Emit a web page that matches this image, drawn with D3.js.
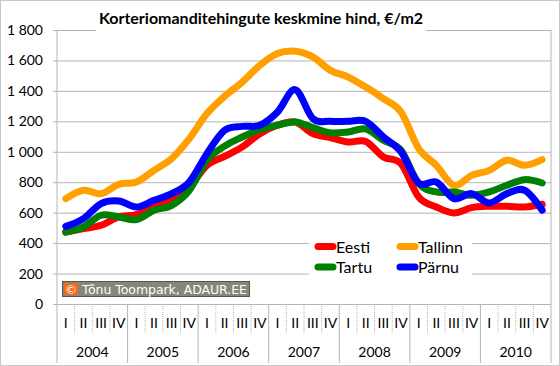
<!DOCTYPE html>
<html>
<head>
<meta charset="utf-8">
<script src="https://cdn.jsdelivr.net/npm/d3@7"></script>
<style>
body { margin:0; background:#fff; }
text { font-family: Lato, "Open Sans", sans-serif; }
</style>
</head>
<body>
<svg id="chart"></svg>
<script>

var years = ["2004","2005","2006","2007","2008","2009","2010"];
var quarters = ["I","II","III","IV"];
var yTicks = [0,200,400,600,800,1000,1200,1400,1600,1800];

var eesti   = [473,495,517,572,587,648,692,769,911,970,1032,1119,1174,1196,1119,1093,1064,1068,966,922,703,637,598,633,642,642,637,655];
var tallinn = [692,747,725,786,801,878,955,1086,1251,1365,1458,1568,1645,1660,1623,1535,1491,1425,1349,1261,1021,911,780,845,878,944,911,948];
var tartu   = [473,506,583,572,554,616,648,747,944,1037,1097,1146,1174,1196,1159,1124,1130,1150,1075,1010,791,736,736,714,736,780,817,795];
var parnu   = [510,561,660,677,637,681,725,801,988,1141,1167,1174,1261,1408,1218,1200,1200,1200,1097,999,795,801,692,725,664,725,747,616];

var seriesNames = ["Eesti","Tallinn","Tartu","Pärnu"];
var seriesColors = ["#ff0000","#ff9f00","#008000","#0000ff"];

var screen = {width:560, height:366};
var margins = {top:30, bottom:62, left:57, right:9};

var graph =
{
    width:screen.width-margins.left-margins.right,
    height:screen.height-margins.top-margins.bottom
};

var svg = d3.select("#chart")
    .attr("width",screen.width)
    .attr("height",screen.height);

svg.append("rect")
    .attr("x",0.5).attr("y",0.5)
    .attr("width",screen.width-1)
    .attr("height",screen.height-1)
    .attr("fill","#ffffff")
    .attr("stroke","#c8c8c8");

// one slot per quarter
var slots = [];
years.forEach(function(y){
    quarters.forEach(function(q){ slots.push(y+"-"+q); });
});

var xScale = d3.scaleBand()
    .domain(slots)
    .range([0,graph.width]);

var yScale = d3.scaleLinear()
    .domain([0,1800])
    .range([graph.height,0]);

var g = svg.append("g")
    .attr("transform","translate("+margins.left+","+margins.top+")");

// gridlines + y labels
var yAxis = d3.axisLeft(yScale)
    .tickValues(yTicks)
    .tickSize(-graph.width-4)
    .tickFormat(function(d){ return d3.format(",")(d).replace(","," "); });

g.append("g")
    .attr("transform","translate(-4,0)")
    .call(yAxis)
    .call(function(a){
        a.select(".domain").remove();
        a.selectAll(".tick line").attr("stroke","#b4b4b4");
        a.selectAll(".tick text")
            .attr("x",-10)
            .attr("fill","#000")
            .style("font-size","14px");
    });

g.append("line")
    .attr("x1",0).attr("x2",0)
    .attr("y1",0).attr("y2",graph.height)
    .attr("stroke","#b4b4b4");
g.append("line")
    .attr("x1",graph.width).attr("x2",graph.width)
    .attr("y1",0).attr("y2",graph.height+59)
    .attr("stroke","#b4b4b4");

// quarter separators and labels
var xa = g.append("g").attr("transform","translate(0,"+graph.height+")");

xa.selectAll("line.q")
    .data(slots.filter(function(d,i){ return i%4!=0; }))
    .enter()
    .append("line")
    .attr("x1",function(d){ return xScale(d); })
    .attr("x2",function(d){ return xScale(d); })
    .attr("y1",0).attr("y2",30)
    .attr("stroke","#b4b4b4")
    .attr("stroke-dasharray","1,1");

xa.selectAll("line.y")
    .data(years)
    .enter()
    .append("line")
    .attr("x1",function(d){ return xScale(d+"-I"); })
    .attr("x2",function(d){ return xScale(d+"-I"); })
    .attr("y1",0).attr("y2",59)
    .attr("stroke","#b4b4b4");

xa.selectAll("text.q")
    .data(slots)
    .enter()
    .append("text")
    .attr("x",function(d){ return xScale(d)+xScale.bandwidth()/2; })
    .attr("y",24)
    .attr("text-anchor","middle")
    .style("font-size","14px")
    .text(function(d){ return d.split("-")[1]; });

xa.selectAll("text.yr")
    .data(years)
    .enter()
    .append("text")
    .attr("x",function(d){ return xScale(d+"-I")+xScale.bandwidth()*2; })
    .attr("y",53)
    .attr("text-anchor","middle")
    .style("font-size","14px")
    .text(function(d){ return d; });

// title
svg.append("rect")
    .attr("x",96).attr("y",8)
    .attr("width",330).attr("height",26)
    .attr("fill","#fff");
svg.append("text")
    .attr("x",261).attr("y",24)
    .attr("text-anchor","middle")
    .style("font-size","16px")
    .style("font-weight","bold")
    .text("Korteriomanditehingute keskmine hind, €/m2");

// lines
var allSeries = [eesti,tallinn,tartu,parnu];
var line = d3.line()
    .x(function(d,i){ return xScale(slots[i])+xScale.bandwidth()/2; })
    .y(function(d){ return yScale(d); })
    .curve(d3.curveCardinal.tension(0));

g.selectAll("path.series")
    .data(allSeries)
    .enter()
    .append("path")
    .attr("d",line)
    .attr("fill","none")
    .attr("stroke",function(d,i){ return seriesColors[i]; })
    .attr("stroke-width",7)
    .attr("stroke-linecap","round")
    .attr("stroke-linejoin","round");

// legend
var legend = svg.append("g");
legend.append("rect")
    .attr("x",309).attr("y",236)
    .attr("width",163).attr("height",42)
    .attr("fill","#fff");

var items = legend.selectAll("g.item")
    .data(seriesNames)
    .enter()
    .append("g")
    .attr("transform",function(d,i){
        return "translate("+(i%2==0 ? 318 : 400)+","+(i<2 ? 246.5 : 267)+")";
    });
items.append("line")
    .attr("x1",0).attr("x2",15)
    .attr("stroke",function(d,i){ return seriesColors[i]; })
    .attr("stroke-width",7)
    .attr("stroke-linecap","round");
items.append("text")
    .attr("x",18).attr("y",6)
    .style("font-size","16px")
    .text(function(d){ return d; });

// copyright box
var cr = svg.append("g");
cr.append("rect")
    .attr("x",62.5).attr("y",281.5)
    .attr("width",187).attr("height",15)
    .attr("fill","#86867a")
    .attr("stroke","#555");
cr.append("rect")
    .attr("x",64).attr("y",283)
    .attr("width",14).attr("height",12)
    .attr("fill","#f26a1b");
cr.append("text")
    .attr("x",71).attr("y",293.5)
    .attr("text-anchor","middle")
    .attr("fill","#fff")
    .style("font-size","12px")
    .text("©");
cr.append("text")
    .attr("x",82).attr("y",294)
    .attr("fill","#fff")
    .style("font-family","'DejaVu Sans'")
    .style("font-size","12.5px")
    .attr("textLength",165)
    .text("Tõnu Toompark, ADAUR.EE");

</script>
</body>
</html>
